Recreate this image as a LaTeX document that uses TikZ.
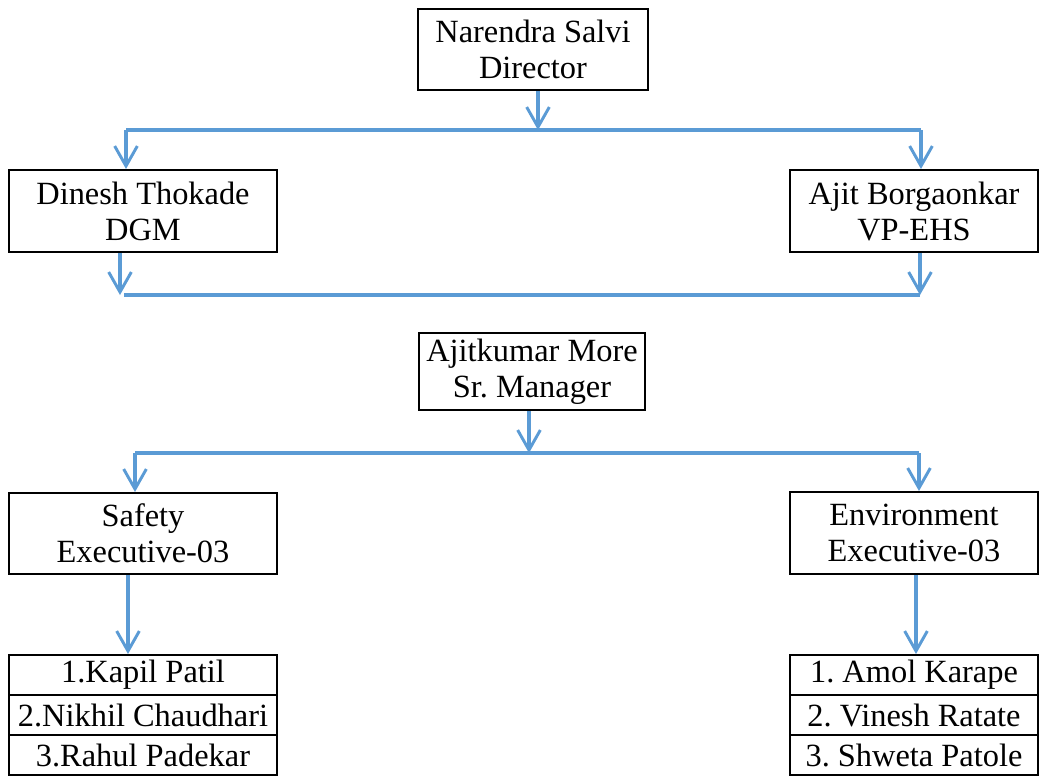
\documentclass[tikz,border=0pt]{standalone}
\usepackage{fontspec}
\setmainfont{Liberation Serif}
\usetikzlibrary{arrows.meta}
\definecolor{conncol}{RGB}{91,155,213}
\frenchspacing
\begin{document}
\begin{tikzpicture}[x=0.75pt,y=-0.75pt,
  box/.style={draw=black,line width=1.5pt,align=center,inner sep=0pt,
    font=\fontsize{24.3}{27}\selectfont},
  row/.style={box,minimum height=30pt},
  link/.style={draw=conncol,line width=2.4pt},
  arr/.style={link,-{Straight Barb[length=15pt,width=17pt,line width=2.2pt]}}]
\useasboundingbox (0,0) rectangle (1040,779);
% boxes
\node[box,minimum width=172.5pt,minimum height=60.75pt] (dir) at (533,49.5) {Narendra Salvi\\Director};
\node[box,minimum width=201pt,minimum height=61.5pt] (dgm) at (143,211) {Dinesh Thokade\\DGM};
\node[box,minimum width=186pt,minimum height=61.5pt] (vp) at (914,211) {Ajit Borgaonkar\\VP-EHS};
\node[box,minimum width=169.5pt,minimum height=57.75pt] (mgr) at (532,371.5) {Ajitkumar More\\Sr. Manager};
\node[box,minimum width=201pt,minimum height=60.75pt] (saf) at (143,533.5) {Safety\\Executive-03};
\node[box,minimum width=186pt,minimum height=61.5pt] (env) at (914,533) {Environment\\Executive-03};
% lists
\node[row,minimum width=201pt] (la) at (143,675) {1.Kapil Patil};
\node[row,minimum width=201pt] (lb) at (143,715) {2.Nikhil Chaudhari};
\node[row,minimum width=201pt] (lc) at (143,755) {3.Rahul Padekar};
\node[row,minimum width=186pt] (ra) at (914,675) {1. Amol Karape};
\node[row,minimum width=186pt] (rb) at (914,715) {2. Vinesh Ratate};
\node[row,minimum width=186pt] (rc) at (914,755) {3. Shweta Patole};
% level 1
\coordinate (a1) at (538,130);
\coordinate (l1) at (126,130);
\coordinate (r1) at (921,130);
\draw[arr] (dir.south -| a1) -- (a1);
\draw[link] (l1) -- (r1);
\draw[arr] (l1) -- (l1 |- dgm.north);
\draw[arr] (r1) -- (r1 |- vp.north);
% level 2
\coordinate (l2) at (120,295);
\coordinate (l2s) at (124,295);
\coordinate (r2) at (920,295);
\draw[link] (l2s) -- (r2);
\draw[arr] (dgm.south -| l2) -- (l2);
\draw[arr] (vp.south -| r2) -- (r2);
% level 3
\coordinate (a3) at (529,453);
\coordinate (l3) at (135,453);
\coordinate (r3) at (919,453);
\draw[arr] (mgr.south -| a3) -- (a3);
\draw[link] (l3) -- (r3);
\draw[arr] (l3) -- (l3 |- saf.north);
\draw[arr] (r3) -- (r3 |- env.north);
% level 4
\coordinate (l4) at (128,574);
\coordinate (r4) at (916,574);
\draw[arr] (saf.south -| l4) -- (l4 |- la.north);
\draw[arr] (env.south -| r4) -- (r4 |- ra.north);
\end{tikzpicture}
\end{document}
